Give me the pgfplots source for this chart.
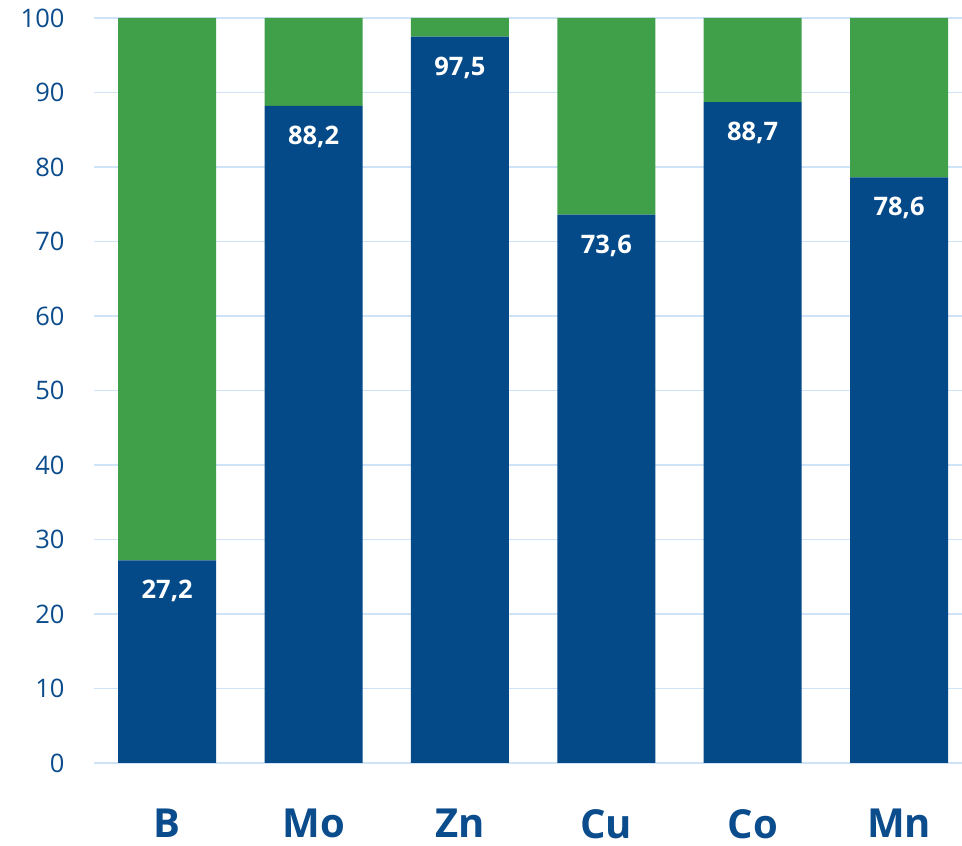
\documentclass[border=0pt]{standalone}
\usepackage{pgfplots}
\pgfplotsset{compat=1.18}
\usepackage{fontspec}
\setmainfont{Open Sans}
\definecolor{barblue}{HTML}{044A89}
\definecolor{bargreen}{HTML}{40A04A}
\definecolor{gridblue}{HTML}{CFE3F8}
\definecolor{labelblue}{HTML}{0B4C8C}
\pgfplotsset{
  frame/.style={
    at={(94pt,83pt)}, anchor=south west,
    scale only axis,
    width=868pt, height=745pt,
    xmin=-0.5, xmax=5.43,
    ymin=0, ymax=100,
    axis line style={draw=none},
    major tick length=0pt,
    clip=false,
  }
}
\begin{document}
\begin{tikzpicture}[x=1pt,y=1pt]
\useasboundingbox (0,0) rectangle (962,846);
% stacked bars: share in blue, remainder in green
\begin{axis}[
  frame,
  ybar stacked,
  bar width=0.669,
  ytick={0,10,...,100},
  xtick={0,...,5},
  xticklabels={B,Mo,Zn,Cu,Co,Mn},
  ymajorgrids,
  grid style={gridblue, line width=1.5pt},
  yticklabel style={font=\fontsize{25.5}{30}\selectfont, text=labelblue, xshift=-26pt},
  xticklabel style={font=\fontsize{40}{46}\selectfont\bfseries, text=labelblue,
    inner sep=0pt, yshift=-46pt},
  /pgf/number format/assume math mode=true,
]
\addplot[fill=barblue, draw=none] coordinates {
  (0,27.2) (1,88.2) (2,97.5) (3,73.6) (4,88.7) (5,78.6)
};
\addplot[fill=bargreen, draw=none] coordinates {
  (0,72.8) (1,11.8) (2,2.5) (3,26.4) (4,11.3) (5,21.4)
};
\end{axis}
% value labels at the top of the blue segments
\begin{axis}[
  frame,
  ybar, bar shift=0pt, bar width=0.669,
  xtick=\empty, ytick=\empty,
]
\addplot[draw=none, fill=none,
  nodes near coords,
  point meta=explicit symbolic,
  every node near coord/.style={anchor=center, yshift=-31pt, text=white,
    font=\fontsize{25.5}{30}\selectfont\bfseries}]
  table[meta=lab] {
  x  y     lab
  0  27.2  27,2
  1  88.2  88,2
  2  97.5  97,5
  3  73.6  73,6
  4  88.7  88,7
  5  78.6  78,6
};
\end{axis}
\end{tikzpicture}
\end{document}
